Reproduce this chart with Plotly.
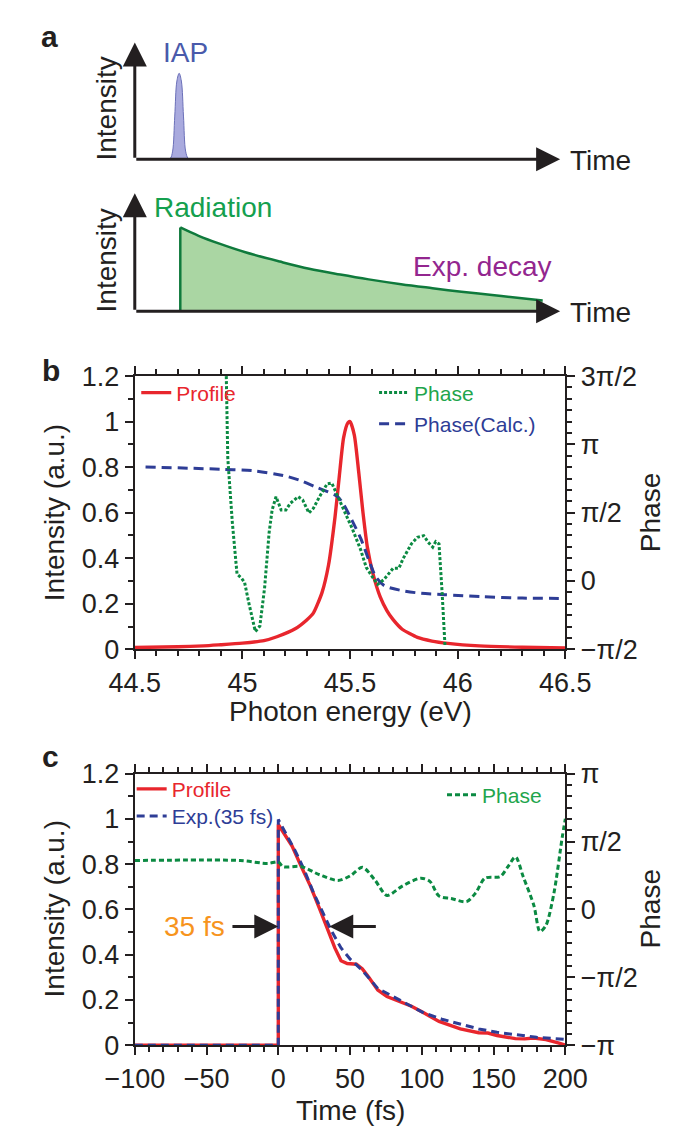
import plotly.graph_objects as go

# ---------------- data: panel a (schematic) ----------------
iap_time = [0.78, 0.84, 0.89, 0.94, 0.99, 1.043, 1.095, 1.145, 1.195, 1.25, 1.30]
iap_intensity = [0.0, 0.01, 0.07, 0.37, 0.67, 0.736, 0.67, 0.37, 0.07, 0.01, 0.0]
decay_time = [1.07, 1.5, 1.99, 2.6, 3.41, 4.1, 4.83, 5.5, 6.26, 7.0, 7.68, 8.4, 9.10, 9.59]
decay_intensity = [0.711, 0.64, 0.573, 0.50, 0.421, 0.36, 0.311, 0.27, 0.229, 0.195, 0.165, 0.137, 0.110, 0.091]

# ---------------- data: panel b ----------------
b_energy = [44.5, 44.7, 44.82, 44.9, 45.0, 45.1, 45.16, 45.245, 45.3, 45.33, 45.37, 45.4, 45.43,
            45.45, 45.47, 45.49, 45.5, 45.52, 45.54, 45.56, 45.58, 45.607, 45.64, 45.671, 45.7,
            45.742, 45.813, 45.88, 45.955, 46.1, 46.3, 46.5]
b_profile = [0.008, 0.011, 0.015, 0.02, 0.027, 0.038, 0.055, 0.09, 0.13, 0.16, 0.25, 0.37, 0.58,
             0.76, 0.93, 0.995, 1.0, 0.94, 0.78, 0.60, 0.45, 0.33, 0.23, 0.17, 0.13,
             0.088, 0.052, 0.036, 0.026, 0.015, 0.009, 0.006]

b_phase_energy = [44.925, 44.927, 44.932, 44.953, 44.975, 44.996, 45.01, 45.031, 45.06, 45.081,
                  45.103, 45.124, 45.138, 45.156, 45.18, 45.202, 45.223, 45.259, 45.28, 45.309,
                  45.33, 45.358, 45.394, 45.415, 45.451, 45.493, 45.511, 45.549, 45.575, 45.607,
                  45.628, 45.657, 45.685, 45.70, 45.727, 45.745, 45.77, 45.785, 45.813, 45.842,
                  45.863, 45.884, 45.898, 45.913, 45.927, 45.941]
# phase in units of pi
b_phase = [1.5, 1.26, 0.90, 0.43, 0.05, 0.02, -0.01, -0.17, -0.37, -0.33,
           -0.05, 0.355, 0.52, 0.617, 0.52, 0.52, 0.57, 0.617, 0.593, 0.498,
           0.533, 0.617, 0.712, 0.717, 0.593, 0.45, 0.38, 0.23, 0.10, 0.022,
           -0.025, 0.01, 0.07, 0.093, 0.093, 0.16, 0.23, 0.272, 0.32, 0.332,
           0.283, 0.248, 0.288, 0.272, -0.07, -0.476]

b_calc_energy = [44.55, 44.90, 45.05, 45.19, 45.27, 45.34, 45.44, 45.47, 45.51, 45.55, 45.59,
                 45.62, 45.66, 45.74, 45.83, 45.94, 46.11, 46.3, 46.5]
b_calc_phase = [0.835, 0.818, 0.807, 0.772, 0.735, 0.688, 0.62, 0.56, 0.44, 0.31, 0.14,
                0.03, -0.035, -0.07, -0.09, -0.10, -0.115, -0.125, -0.128]

# ---------------- data: panel c ----------------
c_time = [-100, -0.01, 0, 5.3, 9.6, 16, 22.4, 28.8, 35.2, 39.4, 43.7, 48, 54.4, 58.6, 62.9,
          69.3, 75.7, 84.2, 92.8, 101.3, 112, 126.8, 139.6, 146, 152.4, 165.2, 171.6, 178,
          186.5, 195, 200]
c_profile = [0, 0, 0.975, 0.925, 0.88, 0.789, 0.703, 0.602, 0.502, 0.43, 0.373, 0.361, 0.358,
             0.337, 0.301, 0.244, 0.215, 0.194, 0.172, 0.143, 0.105, 0.072, 0.055, 0.054,
             0.043, 0.029, 0.028, 0.032, 0.025, 0.01, 0.0]

c_exp_time = [-100, -0.01, 0, 5.3, 11.7, 18.1, 24.5, 30.9, 37.3, 43.7, 50.1, 58.6, 69.3, 80,
              90.6, 101.3, 114, 126.8, 139.6, 152.4, 165.2, 180, 200]
c_exp = [0, 0, 0.997, 0.932, 0.86, 0.774, 0.674, 0.588, 0.502, 0.43, 0.38, 0.33, 0.251, 0.215,
         0.179, 0.143, 0.115, 0.093, 0.072, 0.057, 0.046, 0.035, 0.026]

c_phase_time = [-100, -26.6, -7.4, 0, 3.2, 16, 28.8, 41.6, 50.1, 58.6, 67.2, 75.7, 86.4, 99.2,
                105.6, 112, 120.5, 131.2, 137.6, 144, 154.6, 160, 165.3, 170.6, 178.1, 182.3,
                186.5, 192.1, 197.8, 200]
# phase in units of pi
c_phase = [0.36, 0.36, 0.338, 0.35, 0.315, 0.315, 0.255, 0.213, 0.247, 0.31, 0.218, 0.103,
           0.172, 0.23, 0.207, 0.098, 0.08, 0.057, 0.123, 0.23, 0.242, 0.315, 0.387, 0.242,
           0.028, -0.163, -0.117, 0.123, 0.53, 0.667]

# tick labels
b_x_ticks = [44.5, 45, 45.5, 46, 46.5]
b_phase_ticks = [-0.5, 0, 0.5, 1, 1.5]
b_phase_labels = ["\u2212\u03c0/2", "0", "\u03c0/2", "\u03c0", "3\u03c0/2"]
c_x_ticks = [-100, -50, 0, 50, 100, 150, 200]
c_phase_ticks = [-1, -0.5, 0, 0.5, 1]
c_phase_labels = ["\u2212\u03c0", "\u2212\u03c0/2", "0", "\u03c0/2", "\u03c0"]

# ---------------- style ----------------
W, H = 685, 1134
FONT = "Liberation Sans, Arial, Helvetica, sans-serif"
INK = "#231f20"
RED = "#e8262d"
BLUE = "#2e3d96"
GREEN = "#0b8a42"
GREEN_TXT = "#1fa54c"
ORANGE = "#f7941d"


def fx(p):
    return p / W


def fy(p):
    return 1 - p / H


X0, X1 = 105.4, 574.3
B_TOP, B_BOT = 362.7, 643.3
C_TOP, C_BOT = 771.0, 1050.0

fig = go.Figure()

# panel a
fig.add_trace(go.Scatter(x=iap_time, y=iap_intensity, xaxis="x3", yaxis="y5", mode="lines",
                         line=dict(color="#6b70b8", width=1, shape="spline"), fill="tozeroy",
                         fillcolor="#a9aade", showlegend=False, hoverinfo="skip"))
fig.add_trace(go.Scatter(x=decay_time, y=decay_intensity, xaxis="x4", yaxis="y6", mode="lines",
                         line=dict(color="#0f7a3c", width=2.5, shape="spline", smoothing=1.0),
                         fill="tozeroy", fillcolor="#aad6a3", showlegend=False, hoverinfo="skip"))
fig.add_trace(go.Scatter(x=[decay_time[0], decay_time[0]], y=[0, decay_intensity[0]], xaxis="x4",
                         yaxis="y6", mode="lines", line=dict(color="#0f7a3c", width=2.5),
                         showlegend=False, hoverinfo="skip"))

# panel b
fig.add_trace(go.Scatter(x=b_energy, y=b_profile, xaxis="x", yaxis="y", mode="lines", name="Profile",
                         line=dict(color=RED, width=3.4, shape="spline", smoothing=0.6),
                         legend="legend"))
fig.add_trace(go.Scatter(x=b_calc_energy, y=b_calc_phase, xaxis="x", yaxis="y2", mode="lines",
                         name="Phase(Calc.)",
                         line=dict(color=BLUE, width=3, dash="10px,6px", shape="spline", smoothing=0.8),
                         legend="legend3"))
fig.add_trace(go.Scatter(x=b_phase_energy, y=b_phase, xaxis="x", yaxis="y2", mode="lines", name="Phase",
                         line=dict(color=GREEN, width=3, dash="3px,2px"), legend="legend2"))

# panel c
fig.add_trace(go.Scatter(x=c_phase_time, y=c_phase, xaxis="x2", yaxis="y4", mode="lines", name="Phase",
                         line=dict(color=GREEN, width=3, dash="5px,3px", shape="spline", smoothing=0.8),
                         legend="legend6"))
fig.add_trace(go.Scatter(x=c_time, y=c_profile, xaxis="x2", yaxis="y3", mode="lines", name="Profile",
                         line=dict(color=RED, width=3.4), legend="legend4"))
fig.add_trace(go.Scatter(x=c_exp_time, y=c_exp, xaxis="x2", yaxis="y3", mode="lines", name="Exp.(35 fs)",
                         line=dict(color=BLUE, width=3, dash="8px,5px"), legend="legend5"))

tickfont = dict(family=FONT, size=27, color=INK)


def axis(**kw):
    d = dict(showline=True, linecolor=INK, linewidth=2, ticks="outside", ticklen=8, tickwidth=2,
             tickcolor=INK, showgrid=False, zeroline=False, tickfont=tickfont, fixedrange=True)
    d.update(kw)
    return d


def minor(dt):
    return dict(dtick=dt, ticks="outside", ticklen=5, tickwidth=1.5, tickcolor=INK, showgrid=False)


hidden = dict(visible=False, fixedrange=True)

layout = dict(
    width=W, height=H, margin=dict(l=0, r=0, t=0, b=0),
    paper_bgcolor="white", plot_bgcolor="rgba(0,0,0,0)",
    font=dict(family=FONT, color=INK),
    xaxis=axis(domain=[fx(X0), fx(X1)], range=[44.5, 46.5], tickvals=b_x_ticks, minor=minor(0.1),
               mirror="ticks", anchor="y"),
    yaxis=axis(domain=[fy(B_BOT), fy(B_TOP)], range=[0, 1.2], dtick=0.2, minor=minor(0.1), anchor="x"),
    yaxis2=axis(domain=[fy(B_BOT), fy(B_TOP)], range=[-0.5, 1.5], overlaying="y", side="right",
                tickvals=b_phase_ticks, ticktext=b_phase_labels, minor=minor(1 / 12), anchor="x"),
    xaxis2=axis(domain=[fx(X0), fx(X1)], range=[-100, 200], tickvals=c_x_ticks, minor=minor(10),
                mirror="ticks", anchor="y3"),
    yaxis3=axis(domain=[fy(C_BOT), fy(C_TOP)], range=[0, 1.2], dtick=0.2, minor=minor(0.1), anchor="x2"),
    yaxis4=axis(domain=[fy(C_BOT), fy(C_TOP)], range=[-1, 1], overlaying="y3", side="right",
                tickvals=c_phase_ticks, ticktext=c_phase_labels, minor=minor(1 / 12), anchor="x2"),
    xaxis3=dict(hidden, domain=[fx(105.4), fx(568.6)], range=[0, 10], anchor="y5"),
    yaxis5=dict(hidden, domain=[fy(140), fy(20)], range=[0, 1], anchor="x3"),
    xaxis4=dict(hidden, domain=[fx(105.4), fx(568.6)], range=[0, 10], anchor="y6"),
    yaxis6=dict(hidden, domain=[fy(296), fy(175)], range=[0, 1], anchor="x4"),
)


def leg(xp, yp, color):
    return dict(x=fx(xp), y=fy(yp), xanchor="left", yanchor="middle", bgcolor="rgba(0,0,0,0)",
                font=dict(family=FONT, size=21, color=color), itemwidth=30, borderwidth=0,
                tracegroupgap=0, itemclick=False, itemdoubleclick=False)


layout["legend"] = leg(107, 380, RED)
layout["legend2"] = leg(366, 380, GREEN_TXT)
layout["legend3"] = leg(366, 412, BLUE)
layout["legend4"] = leg(102, 787, RED)
layout["legend5"] = leg(102, 815, BLUE)
layout["legend6"] = leg(440, 793, GREEN_TXT)

fig.update_layout(**layout)

ann = []


def text(xp, yp, s, size=28, color=INK, angle=0, xanchor="center", bold=False):
    ann.append(dict(x=fx(xp), y=fy(yp), xref="paper", yref="paper", text=("<b>%s</b>" % s) if bold else s,
                    showarrow=False, textangle=angle, xanchor=xanchor, yanchor="middle",
                    font=dict(family=FONT, size=size, color=color)))


def arrow(xr, yr, x, y, ax, ay, width=3, size=1.6):
    ann.append(dict(x=x, y=y, ax=ax, ay=ay, xref=xr, yref=yr, axref=xr, ayref=yr, text="",
                    showarrow=True, arrowhead=2, arrowwidth=width, arrowsize=size, arrowcolor=INK))


# panel letters
text(12, 14, "a", size=30, bold=True)
text(14, 357, "b", size=30, bold=True)
text(14, 753, "c", size=30, bold=True)

# panel a decorations
arrow("x3", "y5", 10, 0, 0, 0)
arrow("x3", "y5", 0, 1, 0, 0)
arrow("x4", "y6", 10, 0, 0, 0)
arrow("x4", "y6", 0, 1, 0, 0)
text(577, 141, "Time", xanchor="left")
text(577, 297, "Time", xanchor="left")
text(75, 88, "Intensity", angle=-90)
text(75, 244, "Intensity", angle=-90)
text(134, 30, "IAP", color="#4a5aab", xanchor="left")
text(124, 190, "Radiation", color="#14a04e", xanchor="left")
text(406, 250, "Exp. decay", color="#93268f", xanchor="left")

# panel b titles
text(18, 503, "Intensity (a.u.)", angle=-90)
text(340, 707, "Photon energy (eV)")
text(667, 503, "Phase", angle=-90)

# panel c titles
text(18, 910, "Intensity (a.u.)", angle=-90)
text(340, 1117, "Time (fs)")
text(667, 910, "Phase", angle=-90)
text(170, 928, "35 fs", color=ORANGE)
arrow("x2", "y3", 0, 0.525, -33, 0.525)
arrow("x2", "y3", 35.5, 0.525, 69, 0.525)

fig.update_layout(annotations=ann)
fig.write_html("out.html")
